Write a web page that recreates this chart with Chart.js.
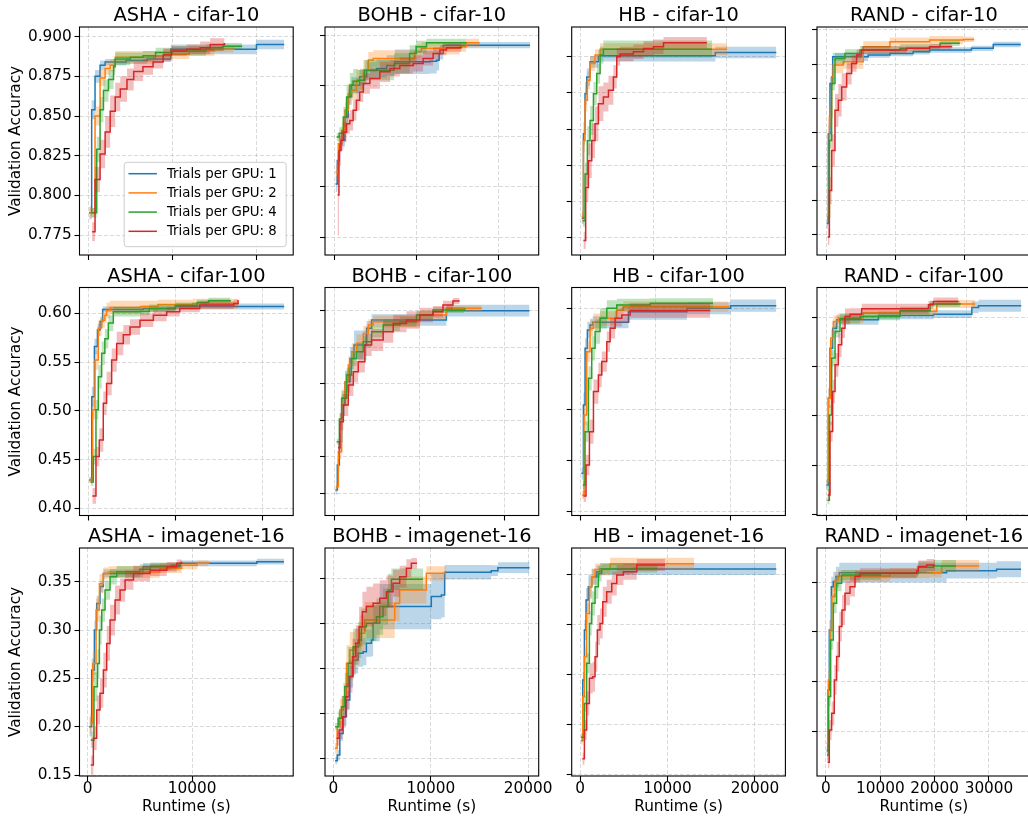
<!DOCTYPE html>
<html><head><meta charset="utf-8">
<script src="https://cdn.jsdelivr.net/npm/chart.js@4.4.1/dist/chart.umd.min.js"></script>
<style>
html,body{margin:0;padding:0;background:#fff;width:1028px;height:820px;overflow:hidden;position:relative}
canvas{position:absolute}
</style></head><body>
<script>
// ---- data: each point is [runtime (s), mean validation accuracy, band half-width] ----
const ASHA_C10_1 = [[100,0.789,0.004],[400,0.854,0.006],[800,0.875,0.004],[1400,0.882,0.003],[2000,0.884,0.002],[4500,0.885,0.002],[7000,0.886,0.002],[9800,0.892,0.003],[20000,0.895,0.003],[23300,0.895,0.003]];
const ASHA_C10_2 = [[200,0.789,0.003],[800,0.85,0.006],[1400,0.874,0.005],[2000,0.88,0.004],[2600,0.882,0.004],[3200,0.887,0.004],[8000,0.888,0.003],[9000,0.889,0.003],[12000,0.891,0.003],[15000,0.892,0.002],[17300,0.893,0.002]];
const ASHA_C10_4 = [[300,0.789,0.003],[1000,0.829,0.008],[1400,0.854,0.008],[1800,0.866,0.007],[2400,0.873,0.006],[3000,0.881,0.005],[3200,0.886,0.004],[5000,0.887,0.003],[6500,0.888,0.003],[8000,0.89,0.003],[10000,0.891,0.003],[14000,0.893,0.002],[16000,0.894,0.002],[18300,0.894,0.002]];
const ASHA_C10_8 = [[450,0.777,0.006],[800,0.81,0.008],[1400,0.826,0.009],[2000,0.84,0.01],[2600,0.853,0.01],[3200,0.862,0.009],[3800,0.867,0.008],[4600,0.873,0.007],[5400,0.878,0.006],[6500,0.881,0.005],[7700,0.884,0.004],[8900,0.8885,0.004],[9900,0.891,0.003],[11700,0.892,0.003],[13300,0.893,0.004],[14500,0.895,0.004],[16200,0.896,0.004]];

const BOHB_C10_1 = [[160,0.753,0.008],[370,0.776,0.008],[610,0.7926,0.006],[900,0.796,0.006],[1300,0.819,0.008],[1700,0.839,0.008],[2100,0.8504,0.008],[3100,0.8587,0.008],[3950,0.865,0.008],[5160,0.867,0.009],[6400,0.87,0.01],[7400,0.8736,0.012],[11700,0.874,0.012],[12500,0.875,0.01],[12800,0.8818,0.006],[13300,0.89,0.003],[23900,0.89,0.003]];
const BOHB_C10_2 = [[160,0.7645,0.008],[490,0.7926,0.008],[900,0.8058,0.008],[1300,0.8256,0.008],[1700,0.8421,0.01],[2100,0.8455,0.01],[2700,0.8554,0.01],[3540,0.8653,0.01],[4150,0.8752,0.008],[4750,0.8769,0.008],[9840,0.8835,0.007],[10650,0.8868,0.006],[15300,0.8884,0.005],[16100,0.8924,0.004],[17700,0.8927,0.004]];
const BOHB_C10_4 = [[280,0.7992,0.004],[610,0.803,0.006],[1100,0.819,0.01],[1500,0.8388,0.012],[1900,0.8504,0.012],[2300,0.8544,0.012],[2900,0.8554,0.01],[3700,0.8653,0.01],[7300,0.8719,0.01],[9200,0.8818,0.008],[10000,0.8884,0.006],[11260,0.8924,0.004],[16100,0.8927,0.004]];
const BOHB_C10_8 = [[400,0.742,0.04],[570,0.786,0.015],[810,0.796,0.01],[1100,0.804,0.01],[1500,0.8124,0.01],[1900,0.8157,0.01],[2300,0.8256,0.01],[2700,0.8355,0.01],[3100,0.8438,0.01],[3540,0.852,0.01],[4350,0.857,0.01],[5560,0.8636,0.01],[6800,0.867,0.008],[8000,0.87,0.008],[9630,0.8719,0.008],[10850,0.8769,0.007],[12070,0.8818,0.006],[12900,0.8851,0.005],[13700,0.8874,0.004],[15500,0.8884,0.004]];

const HB_C10_1 = [[140,0.7884,0.004],[370,0.8468,0.008],[590,0.8745,0.008],[820,0.886,0.006],[1280,0.8965,0.004],[2420,0.9007,0.004],[18400,0.903,0.004],[26750,0.903,0.003]];
const HB_C10_2 = [[140,0.7894,0.004],[370,0.842,0.008],[590,0.87,0.008],[910,0.8838,0.006],[1280,0.8954,0.005],[1960,0.9012,0.004],[2650,0.9053,0.004],[20000,0.9053,0.004]];
const HB_C10_4 = [[270,0.7866,0.004],[590,0.819,0.008],[910,0.842,0.01],[1280,0.856,0.01],[1740,0.8745,0.008],[2190,0.8884,0.007],[2650,0.9012,0.006],[3100,0.9053,0.006],[17950,0.9053,0.006]];
const HB_C10_8 = [[370,0.7731,0.006],[680,0.8097,0.01],[1050,0.8282,0.012],[1510,0.8421,0.012],[1960,0.8537,0.012],[2420,0.8676,0.012],[3100,0.8722,0.01],[3790,0.8769,0.01],[4470,0.8861,0.008],[4930,0.9,0.006],[5390,0.9019,0.005],[7200,0.9035,0.005],[8580,0.9058,0.005],[9950,0.907,0.005],[11320,0.9097,0.004],[17260,0.9097,0.004]];

const RAND_C10_1 = [[0,0.7579,0.004],[240,0.8238,0.006],[480,0.8607,0.005],[870,0.8803,0.003],[6000,0.8816,0.002],[9150,0.8828,0.002],[12500,0.884,0.002],[14900,0.8853,0.002],[20950,0.8865,0.002],[24100,0.8894,0.002],[28080,0.8894,0.002]];
const RAND_C10_2 = [[100,0.7628,0.004],[390,0.836,0.008],[720,0.8656,0.007],[960,0.8742,0.006],[2400,0.8766,0.005],[5300,0.8877,0.004],[9150,0.8914,0.003],[14900,0.8926,0.003],[19750,0.8931,0.002],[21340,0.8931,0.002]];
const RAND_C10_4 = [[100,0.7623,0.004],[390,0.8189,0.006],[720,0.8607,0.005],[1200,0.879,0.004],[2650,0.8828,0.003],[4820,0.8853,0.003],[10600,0.8865,0.003],[14900,0.8877,0.002],[16400,0.8902,0.002],[19270,0.8902,0.002]];
const RAND_C10_8 = [[150,0.748,0.006],[390,0.782,0.01],[720,0.8115,0.012],[1200,0.841,0.012],[1690,0.8484,0.012],[2170,0.8582,0.01],[2890,0.868,0.008],[3610,0.8754,0.006],[4330,0.8816,0.004],[5060,0.8853,0.003],[11560,0.8865,0.002],[14900,0.8877,0.002],[18060,0.8884,0.002]];

const ASHA_C100_1 = [[100,0.429,0.003],[400,0.5145,0.01],[700,0.566,0.008],[1050,0.583,0.006],[1350,0.5915,0.005],[1650,0.604,0.003],[6300,0.605,0.003],[10000,0.607,0.003],[22500,0.607,0.003]];
const ASHA_C100_2 = [[200,0.429,0.003],[500,0.501,0.01],[770,0.552,0.01],[1150,0.585,0.008],[1530,0.593,0.008],[1900,0.598,0.008],[2100,0.603,0.008],[2500,0.606,0.007],[6000,0.607,0.006],[8000,0.609,0.005],[12000,0.61,0.005],[17200,0.611,0.005]];
const ASHA_C100_4 = [[270,0.427,0.004],[575,0.453,0.008],[880,0.501,0.01],[1150,0.535,0.012],[1530,0.559,0.012],[1900,0.574,0.01],[2300,0.59,0.008],[2870,0.6017,0.005],[6000,0.602,0.004],[7000,0.605,0.004],[10000,0.608,0.003],[12500,0.611,0.003],[13800,0.613,0.003],[16300,0.6137,0.003]];
const ASHA_C100_8 = [[460,0.4127,0.008],[880,0.453,0.01],[1260,0.47,0.012],[1720,0.5077,0.012],[2100,0.528,0.012],[2680,0.552,0.012],[3260,0.569,0.012],[4020,0.578,0.01],[4790,0.586,0.008],[5940,0.593,0.007],[7470,0.598,0.006],[9000,0.6017,0.005],[10500,0.605,0.004],[12800,0.6085,0.004],[16700,0.61,0.004],[17200,0.6137,0.003]];

const BOHB_C100_1 = [[80,0.354,0.006],[310,0.3884,0.01],[550,0.4204,0.012],[820,0.4707,0.015],[1210,0.5027,0.015],[1800,0.5346,0.015],[2270,0.5529,0.02],[3750,0.5758,0.01],[4340,0.5872,0.008],[13130,0.6,0.008],[22900,0.6,0.008]];
const BOHB_C100_2 = [[160,0.3587,0.006],[430,0.4067,0.01],[820,0.4798,0.012],[1210,0.5027,0.012],[1600,0.5255,0.012],[2000,0.5438,0.012],[2580,0.5552,0.012],[3360,0.5689,0.01],[3950,0.5803,0.008],[4530,0.5849,0.008],[10000,0.594,0.006],[13130,0.6032,0.004],[17230,0.6041,0.004]];
const BOHB_C100_4 = [[230,0.4204,0.004],[550,0.4515,0.008],[820,0.4798,0.01],[1410,0.5118,0.01],[2000,0.5346,0.01],[2580,0.5438,0.01],[3360,0.5575,0.008],[4340,0.5712,0.008],[5700,0.5803,0.008],[7660,0.5849,0.007],[9610,0.594,0.006],[11560,0.6009,0.004],[15270,0.6032,0.004]];
const BOHB_C100_8 = [[390,0.4122,0.008],[630,0.4478,0.012],[1020,0.4707,0.015],[1600,0.4981,0.015],[2190,0.5164,0.015],[2770,0.5301,0.015],[3550,0.5529,0.015],[4340,0.5598,0.015],[5700,0.5712,0.015],[6880,0.5826,0.012],[8440,0.5872,0.012],[10000,0.594,0.01],[11560,0.5986,0.008],[12730,0.6078,0.006],[13900,0.6133,0.004],[14690,0.6133,0.004]];

const HB_C100_1 = [[90,0.4372,0.006],[360,0.5046,0.012],[580,0.5605,0.01],[890,0.5786,0.008],[1250,0.5836,0.006],[1600,0.5862,0.006],[6370,0.5967,0.008],[14170,0.6,0.006],[20000,0.6026,0.006],[26100,0.6026,0.006]];
const HB_C100_2 = [[180,0.4158,0.004],[450,0.4947,0.01],[800,0.5572,0.01],[1250,0.5803,0.008],[1700,0.5868,0.008],[2580,0.5901,0.007],[4810,0.5984,0.006],[5700,0.6016,0.005],[19740,0.6026,0.005]];
const HB_C100_4 = [[270,0.4257,0.004],[580,0.4783,0.01],[1030,0.5309,0.012],[1470,0.5605,0.012],[1920,0.577,0.012],[2580,0.5901,0.01],[3480,0.6,0.008],[4810,0.6033,0.006],[9270,0.6049,0.005],[17650,0.6049,0.005]];
const HB_C100_8 = [[360,0.4148,0.006],[710,0.4454,0.01],[1160,0.4783,0.012],[1700,0.5178,0.012],[2360,0.5342,0.012],[2810,0.5474,0.01],[3480,0.5671,0.01],[3920,0.5803,0.01],[4590,0.5901,0.008],[5480,0.5934,0.008],[6600,0.5977,0.007],[17290,0.5977,0.007]];

const RAND_C100_1 = [[50,0.4298,0.006],[330,0.5178,0.01],[570,0.5685,0.008],[950,0.5888,0.006],[1520,0.5973,0.005],[7480,0.6017,0.004],[15330,0.603,0.004],[20810,0.6098,0.006],[21760,0.6115,0.006],[27860,0.6115,0.006]];
const RAND_C100_2 = [[100,0.4332,0.006],[330,0.5178,0.01],[670,0.5787,0.008],[1050,0.5956,0.006],[1760,0.599,0.005],[5330,0.6041,0.004],[10570,0.6058,0.004],[15810,0.6132,0.004],[21290,0.6132,0.004]];
const RAND_C100_4 = [[190,0.4142,0.004],[480,0.5008,0.01],[810,0.5584,0.008],[1290,0.5854,0.006],[2000,0.5983,0.005],[4860,0.6007,0.004],[10570,0.6064,0.004],[14860,0.6132,0.003],[19140,0.6142,0.003]];
const RAND_C100_8 = [[240,0.4196,0.006],[570,0.4839,0.01],[950,0.5245,0.012],[1290,0.5516,0.012],[1760,0.5719,0.012],[2240,0.5888,0.01],[2710,0.6007,0.008],[3430,0.603,0.006],[5100,0.6085,0.005],[14620,0.6125,0.004],[15330,0.6159,0.004],[18900,0.6159,0.004]];

const ASHA_IM16_1 = [[150,0.2,0.01],[380,0.2586,0.012],[640,0.3,0.01],[860,0.3276,0.008],[1180,0.345,0.006],[1500,0.3586,0.004],[5300,0.3655,0.004],[8850,0.369,0.003],[16200,0.3707,0.003],[18800,0.3707,0.003]];
const ASHA_IM16_2 = [[220,0.2034,0.01],[480,0.2655,0.012],[800,0.3207,0.012],[1120,0.348,0.01],[1500,0.3586,0.006],[2000,0.36,0.006],[6900,0.364,0.005],[9000,0.367,0.004],[10500,0.369,0.003],[11570,0.3707,0.003]];
const ASHA_IM16_4 = [[290,0.1862,0.008],[600,0.2414,0.015],[930,0.2655,0.015],[1120,0.3,0.015],[1340,0.3207,0.012],[1660,0.3414,0.01],[2140,0.3552,0.008],[2780,0.3603,0.006],[5000,0.363,0.005],[6000,0.366,0.004],[8000,0.367,0.003],[8850,0.369,0.003]];
const ASHA_IM16_8 = [[290,0.1603,0.01],[540,0.188,0.012],[860,0.2172,0.015],[1180,0.2345,0.015],[1500,0.2586,0.018],[1820,0.2862,0.018],[2140,0.3103,0.016],[2620,0.331,0.015],[3100,0.3414,0.012],[3580,0.3517,0.01],[4380,0.3586,0.008],[5970,0.362,0.006],[7570,0.3655,0.005],[8530,0.369,0.004],[9000,0.3707,0.003]];

const BOHB_IM16_1 = [[170,0.1478,0.004],[380,0.154,0.006],[650,0.178,0.008],[990,0.1966,0.01],[1330,0.2151,0.01],[1680,0.241,0.012],[2020,0.2594,0.015],[2530,0.2668,0.015],[3040,0.2687,0.015],[3380,0.2779,0.015],[3900,0.2816,0.018],[4070,0.3001,0.02],[4750,0.3186,0.025],[10050,0.3297,0.025],[11080,0.3315,0.025],[11420,0.3567,0.008],[16200,0.3585,0.006],[16890,0.3618,0.006],[20140,0.3618,0.006]];
const BOHB_IM16_2 = [[140,0.1615,0.006],[380,0.1855,0.01],[650,0.204,0.012],[990,0.2188,0.015],[1330,0.2557,0.02],[1680,0.2705,0.02],[2190,0.2742,0.02],[2700,0.289,0.02],[3210,0.3038,0.02],[6290,0.3223,0.02],[6800,0.3371,0.015],[9540,0.3555,0.008],[11590,0.3555,0.008]];
const BOHB_IM16_4 = [[170,0.1855,0.004],[480,0.1947,0.008],[820,0.2077,0.012],[1160,0.2299,0.015],[1500,0.2557,0.018],[2020,0.2742,0.02],[2530,0.2816,0.02],[2870,0.2964,0.02],[3380,0.3001,0.02],[4410,0.3075,0.02],[5090,0.3186,0.02],[5610,0.3371,0.018],[5950,0.3489,0.012],[9200,0.3489,0.012]];
const BOHB_IM16_8 = [[310,0.1726,0.008],[580,0.1818,0.01],[920,0.1966,0.012],[1260,0.2188,0.015],[1610,0.241,0.018],[1950,0.2631,0.02],[2290,0.2779,0.02],[2630,0.2964,0.022],[2970,0.313,0.022],[3380,0.3186,0.022],[4070,0.3223,0.022],[4750,0.3278,0.02],[5440,0.3352,0.018],[6120,0.3445,0.015],[6800,0.3518,0.012],[7490,0.3611,0.01],[8000,0.3666,0.006],[8580,0.3666,0.006]];

const HB_IM16_1 = [[110,0.1876,0.004],[310,0.2448,0.008],[500,0.2948,0.01],[690,0.3247,0.012],[950,0.338,0.012],[1340,0.348,0.008],[1910,0.353,0.006],[2290,0.3557,0.006],[22440,0.3557,0.006]];
const HB_IM16_2 = [[110,0.1843,0.004],[310,0.2282,0.008],[500,0.2681,0.01],[760,0.3114,0.01],[1070,0.338,0.01],[1340,0.348,0.008],[1720,0.3553,0.006],[3440,0.361,0.006],[13050,0.361,0.006]];
const HB_IM16_4 = [[230,0.1876,0.004],[500,0.2215,0.008],[760,0.2615,0.01],[1070,0.3014,0.012],[1340,0.3214,0.012],[1720,0.338,0.012],[2100,0.3513,0.008],[2480,0.3557,0.005],[6110,0.3563,0.004],[8860,0.3563,0.004]];
const HB_IM16_8 = [[270,0.1663,0.006],[500,0.1949,0.01],[760,0.2215,0.012],[1070,0.2465,0.015],[1450,0.2482,0.015],[1720,0.2681,0.015],[1980,0.2948,0.015],[2290,0.3014,0.015],[2600,0.323,0.015],[3050,0.333,0.012],[3630,0.3413,0.012],[4200,0.3497,0.01],[4960,0.353,0.008],[6490,0.3597,0.006],[9730,0.3597,0.006]];

const RAND_IM16_1 = [[120,0.1805,0.006],[370,0.2416,0.01],[610,0.302,0.01],[980,0.3456,0.01],[1350,0.3507,0.01],[1840,0.3557,0.01],[2450,0.3597,0.01],[22200,0.3617,0.008],[31400,0.3631,0.008],[35900,0.3631,0.008]];
const RAND_IM16_2 = [[120,0.1879,0.006],[430,0.2517,0.01],[740,0.302,0.01],[1100,0.3356,0.01],[1660,0.3523,0.008],[2270,0.3564,0.006],[11780,0.3591,0.005],[19140,0.3597,0.005],[21290,0.3664,0.006],[28220,0.3664,0.006]];
const RAND_IM16_4 = [[180,0.1762,0.006],[490,0.2349,0.01],[860,0.292,0.01],[1350,0.3289,0.01],[1960,0.349,0.008],[2880,0.3574,0.005],[10000,0.3591,0.004],[17000,0.3651,0.006],[19750,0.3664,0.006],[23930,0.3664,0.006]];
const RAND_IM16_8 = [[310,0.1688,0.006],[610,0.2013,0.01],[1040,0.2181,0.012],[1530,0.2517,0.015],[1960,0.2752,0.015],[2450,0.3054,0.015],[2940,0.3221,0.015],[3500,0.3389,0.012],[4420,0.3456,0.01],[5340,0.3557,0.006],[6260,0.3591,0.005],[16690,0.3617,0.005],[17000,0.3658,0.006],[18530,0.3674,0.006],[20060,0.3674,0.006]];

// ---- panel metadata ----
const TITLES = ['ASHA - cifar-10','BOHB - cifar-10','HB - cifar-10','RAND - cifar-10',
  'ASHA - cifar-100','BOHB - cifar-100','HB - cifar-100','RAND - cifar-100',
  'ASHA - imagenet-16','BOHB - imagenet-16','HB - imagenet-16','RAND - imagenet-16'];
const PANEL_SERIES = [
  [ASHA_C10_1,ASHA_C10_2,ASHA_C10_4,ASHA_C10_8],[BOHB_C10_1,BOHB_C10_2,BOHB_C10_4,BOHB_C10_8],
  [HB_C10_1,HB_C10_2,HB_C10_4,HB_C10_8],[RAND_C10_1,RAND_C10_2,RAND_C10_4,RAND_C10_8],
  [ASHA_C100_1,ASHA_C100_2,ASHA_C100_4,ASHA_C100_8],[BOHB_C100_1,BOHB_C100_2,BOHB_C100_4,BOHB_C100_8],
  [HB_C100_1,HB_C100_2,HB_C100_4,HB_C100_8],[RAND_C100_1,RAND_C100_2,RAND_C100_4,RAND_C100_8],
  [ASHA_IM16_1,ASHA_IM16_2,ASHA_IM16_4,ASHA_IM16_8],[BOHB_IM16_1,BOHB_IM16_2,BOHB_IM16_4,BOHB_IM16_8],
  [HB_IM16_1,HB_IM16_2,HB_IM16_4,HB_IM16_8],[RAND_IM16_1,RAND_IM16_2,RAND_IM16_4,RAND_IM16_8]];
const SERIES_LABELS = ['Trials per GPU: 1','Trials per GPU: 2','Trials per GPU: 4','Trials per GPU: 8'];
const X_LIMITS = [[-1048,24370],[-1134,24960],[-1233,27990],[-1400,29520],
  [-1011,23530],[-1138,23980],[-1203,27310],[-1286,29210],
  [-786,19684],[-872,21080],[-951,23480],[-1654,37680]];
const X_TICKS = [[0,10000,20000],[0,10000,20000],[0,10000,20000],[0,10000,20000],
  [0,10000,20000],[0,10000,20000],[0,10000,20000],[0,10000,20000],
  [0,10000],[0,10000,20000],[0,10000,20000],[0,10000,20000,30000]];
const Y_LIMITS = [[0.7624,0.9061],[0.6828,0.9079],[0.763,0.9206],[0.7347,0.9022],
  [0.3926,0.6265],[0.3192,0.6318],[0.3956,0.6205],[0.3988,0.630],
  [0.149,0.3849],[0.1308,0.3836],[0.149,0.3767],[0.155,0.3845]];
const Y_TICKS = [[0.775,0.8,0.825,0.85,0.875,0.9],[0.7,0.75,0.8,0.85,0.9],[0.775,0.8,0.825,0.85,0.875,0.9],[0.75,0.775,0.8,0.825,0.85,0.875,0.9],
  [0.4,0.45,0.5,0.55,0.6],[0.35,0.4,0.45,0.5,0.55,0.6],[0.4,0.45,0.5,0.55,0.6],[0.4,0.45,0.5,0.55,0.6],
  [0.15,0.2,0.25,0.3,0.35],[0.15,0.2,0.25,0.3,0.35],[0.15,0.2,0.25,0.3,0.35],[0.2,0.25,0.3,0.35]];
const Y_DECIMALS = [3,2,2];
const X_TITLE = 'Runtime (s)';
const Y_TITLE = 'Validation Accuracy';

// ---- styles / layout ----
const COLORS = ['#1f77b4','#ff7f0e','#2ca02c','#d62728'];
const BAND_COLORS = ['rgba(31,119,180,0.3)','rgba(255,127,14,0.3)','rgba(44,160,44,0.3)','rgba(214,39,40,0.3)'];
const FONT = "'DejaVu Sans', sans-serif";
const COL_LEFT = [79.5, 325, 571.7, 817];
const ROW_TOP = [27, 287.5, 548];
const PLOT_W = 213.7, PLOT_H = 228;
const ML = 78, MT = 28, MR = 30, MB = 50;

Chart.defaults.color = '#000';
Chart.defaults.font.family = FONT;

const framePlugin = {
  id: 'frame',
  afterDraw(chart) {
    const {ctx, chartArea: a} = chart;
    ctx.save();
    ctx.strokeStyle = '#000';
    ctx.lineWidth = 1.1;
    ctx.strokeRect(a.left, a.top, a.right - a.left, a.bottom - a.top);
    ctx.restore();
  }
};

const legendPlugin = {
  id: 'boxLegend',
  afterDatasetsDraw(chart, args, opts) {
    if (!opts || !opts.show) return;
    const {ctx, chartArea: a} = chart;
    const w = 162, h = 84.4;
    const x0 = a.right - 7 - w, y0 = a.bottom - 8.3 - h;
    ctx.save();
    ctx.beginPath();
    if (ctx.roundRect) ctx.roundRect(x0, y0, w, h, 3); else ctx.rect(x0, y0, w, h);
    ctx.fillStyle = 'rgba(255,255,255,0.8)';
    ctx.fill();
    ctx.strokeStyle = '#cccccc';
    ctx.lineWidth = 1;
    ctx.stroke();
    ctx.font = '13.3px ' + FONT;
    ctx.textBaseline = 'middle';
    ctx.textAlign = 'left';
    SERIES_LABELS.forEach((lab, k) => {
      const y = y0 + 11.4 + k * 19.2;
      ctx.strokeStyle = COLORS[k];
      ctx.lineWidth = 1.5;
      ctx.beginPath();
      ctx.moveTo(x0 + 4.3, y);
      ctx.lineTo(x0 + 32.7, y);
      ctx.stroke();
      ctx.fillStyle = '#000';
      ctx.fillText(lab, x0 + 42.7, y + 0.5);
    });
    ctx.restore();
  }
};

function buildDatasets(seriesList) {
  const ds = [];
  seriesList.forEach((arr, k) => {
    const mean = arr.map(p => ({x: p[0], y: p[1]}));
    const up = arr.map(p => ({x: p[0], y: p[1] + p[2]}));
    const lo = arr.map(p => ({x: p[0], y: p[1] - p[2]}));
    ds.push({data: up, borderWidth: 0, borderColor: 'rgba(0,0,0,0)', pointRadius: 0, fill: false, stepped: true});
    ds.push({data: lo, borderWidth: 0, borderColor: 'rgba(0,0,0,0)', pointRadius: 0, fill: '-1', backgroundColor: BAND_COLORS[k], stepped: true});
    ds.push({data: mean, label: SERIES_LABELS[k], borderWidth: 1.5, borderColor: COLORS[k], pointRadius: 0, fill: false, stepped: true});
  });
  ds.forEach((d, j) => { d.order = 100 - j; });
  return ds;
}

for (let i = 0; i < 12; i++) {
  const r = Math.floor(i / 4), c = i % 4;
  const cLeft = Math.floor(COL_LEFT[c]) - ML;
  const cTop = Math.floor(ROW_TOP[r]) - MT;
  const offL = COL_LEFT[c] - cLeft;
  const offT = ROW_TOP[r] - cTop;
  const W = Math.ceil(offL + PLOT_W + MR);
  const H = Math.ceil(offT + PLOT_H + MB);
  const padR = W - offL - PLOT_W;
  const axisH = H - offT - PLOT_H;
  const cv = document.createElement('canvas');
  cv.width = W; cv.height = H;
  cv.style.left = cLeft + 'px'; cv.style.top = cTop + 'px';
  cv.style.width = W + 'px'; cv.style.height = H + 'px';
  document.body.appendChild(cv);
  const isLeft = c === 0, isBottom = r === 2;
  const dec = Y_DECIMALS[r];
  const titleSize = 19.4;
  new Chart(cv.getContext('2d'), {
    type: 'line',
    data: {datasets: buildDatasets(PANEL_SERIES[i])},
    options: {
      responsive: false, animation: false, events: [],
      layout: {padding: {left: 0, top: 0, right: padR, bottom: 0}},
      plugins: {
        legend: {display: false}, tooltip: {enabled: false},
        title: {display: true, text: TITLES[i], color: '#000', fullSize: false, align: 'center',
          font: {family: FONT, size: titleSize, weight: 'normal', lineHeight: 1},
          padding: {top: offT - 10.7 - titleSize / 2, bottom: 10.7 - titleSize / 2}},
        boxLegend: {show: i === 0}
      },
      scales: {
        x: {
          type: 'linear', min: X_LIMITS[i][0], max: X_LIMITS[i][1],
          afterBuildTicks: s => { s.ticks = X_TICKS[i].map(v => ({value: v})); },
          afterFit: s => { s.height = axisH; },
          grid: {color: 'rgba(176,176,176,0.6)', lineWidth: 0.8, drawTicks: true, tickLength: 5, tickColor: '#000', tickWidth: 1.1},
          border: {display: false, dash: [4, 2]},
          ticks: {display: isBottom, autoSkip: false, maxRotation: 0, padding: 0.85,
            font: {family: FONT, size: 15.3, lineHeight: 1}, color: '#000',
            callback: v => String(v)},
          title: {display: isBottom, text: X_TITLE, color: '#000',
            font: {family: FONT, size: 15.3, lineHeight: 1.2}, padding: {top: 0, bottom: 9.3}}
        },
        y: {
          type: 'linear', min: Y_LIMITS[i][0], max: Y_LIMITS[i][1],
          afterBuildTicks: s => { s.ticks = Y_TICKS[i].map(v => ({value: v})); },
          afterFit: s => { s.width = offL; },
          grid: {color: 'rgba(176,176,176,0.6)', lineWidth: 0.8, drawTicks: true, tickLength: 5, tickColor: '#000', tickWidth: 1.1},
          border: {display: false, dash: [4, 2]},
          ticks: {display: isLeft, autoSkip: false, padding: 2.8,
            font: {family: FONT, size: 15.3, lineHeight: 1}, color: '#000',
            callback: v => Number(v).toFixed(dec)},
          title: {display: isLeft, text: Y_TITLE, color: '#000',
            font: {family: FONT, size: 15.3, lineHeight: 1.2}, padding: {top: 6.3, bottom: 0}}
        }
      }
    },
    plugins: [framePlugin, legendPlugin]
  });
}
</script>
</body></html>
